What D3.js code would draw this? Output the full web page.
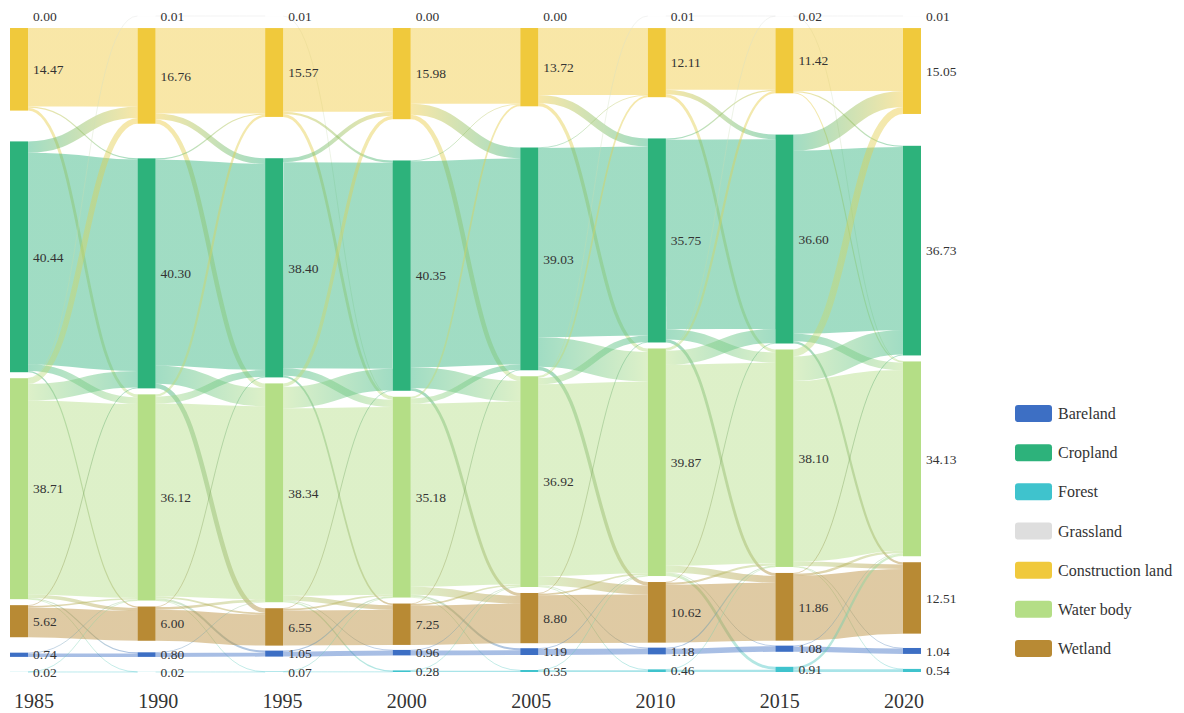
<!DOCTYPE html>
<html>
<head>
<meta charset="utf-8">
<script src="https://cdn.jsdelivr.net/npm/d3@7"></script>
<style>
  body { margin: 0; background: #fff; }
  svg { display: block; }
  svg text { font-family: "Liberation Serif", "Times New Roman", serif; }
</style>
</head>
<body>
<svg id="chart" width="1184" height="713"></svg>
<script>
// ---- data -------------------------------------------------------------
const years = ["1985", "1990", "1995", "2000", "2005", "2010", "2015", "2020"];

// stacking order of the land types in every column (top to bottom)
const landTypes = ["Grassland", "Construction land", "Cropland", "Water body", "Wetland", "Bareland", "Forest"];
const typeKeys  = ["grass", "built", "crop", "water", "wet", "bare", "forest"];
const typeColors = ["#dedede", "#f0c93c", "#2db27b", "#b4de86", "#b88a34", "#3d6fc4", "#3fc3cd"];
const legendOrder = ["Bareland", "Cropland", "Forest", "Grassland", "Construction land", "Water body", "Wetland"];

// share of the total area (%), one value per year
const grassland    = [0.00, 0.01, 0.01, 0.00, 0.00, 0.01, 0.02, 0.01];
const construction = [14.47, 16.76, 15.57, 15.98, 13.72, 12.11, 11.42, 15.05];
const cropland     = [40.44, 40.30, 38.40, 40.35, 39.03, 35.75, 36.60, 36.73];
const waterBody    = [38.71, 36.12, 38.34, 35.18, 36.92, 39.87, 38.10, 34.13];
const wetland      = [5.62, 6.00, 6.55, 7.25, 8.80, 10.62, 11.86, 12.51];
const bareland     = [0.74, 0.80, 1.05, 0.96, 1.19, 1.18, 1.08, 1.04];
const forest       = [0.02, 0.02, 0.07, 0.28, 0.35, 0.46, 0.91, 0.54];

// conversions between consecutive years: [from, to, % of area]
const flows_1985_1990 = [
  ["built", "built", 13.77], ["built", "crop", 0.20], ["built", "water", 0.50],
  ["crop", "built", 1.99], ["crop", "crop", 37.05], ["crop", "water", 1.20], ["crop", "wet", 0.20],
  ["water", "grass", 0.01], ["water", "built", 1.00], ["water", "crop", 2.90], ["water", "water", 33.99],
  ["water", "wet", 0.60], ["water", "bare", 0.20], ["water", "forest", 0.01],
  ["wet", "crop", 0.15], ["wet", "water", 0.27], ["wet", "wet", 5.20],
  ["bare", "water", 0.14], ["bare", "bare", 0.60],
  ["forest", "water", 0.01], ["forest", "forest", 0.01]
];
const flows_1990_1995 = [
  ["grass", "grass", 0.01],
  ["built", "built", 14.96], ["built", "crop", 1.00], ["built", "water", 0.80],
  ["crop", "built", 0.21], ["crop", "crop", 36.09], ["crop", "water", 3.20], ["crop", "wet", 0.80],
  ["water", "built", 0.40], ["water", "crop", 1.21], ["water", "water", 33.81],
  ["water", "wet", 0.30], ["water", "bare", 0.35], ["water", "forest", 0.05],
  ["wet", "crop", 0.10], ["wet", "water", 0.45], ["wet", "wet", 5.45],
  ["bare", "water", 0.10], ["bare", "bare", 0.70],
  ["forest", "forest", 0.02]
];
const flows_1995_2000 = [
  ["grass", "water", 0.01],
  ["built", "built", 14.67], ["built", "crop", 0.40], ["built", "water", 0.50],
  ["crop", "built", 0.71], ["crop", "crop", 36.09], ["crop", "water", 1.30], ["crop", "wet", 0.30],
  ["water", "built", 0.60], ["water", "crop", 3.76], ["water", "water", 32.86],
  ["water", "wet", 0.80], ["water", "bare", 0.10], ["water", "forest", 0.22],
  ["wet", "crop", 0.10], ["wet", "water", 0.30], ["wet", "wet", 6.15],
  ["bare", "water", 0.19], ["bare", "bare", 0.86],
  ["forest", "water", 0.01], ["forest", "forest", 0.06]
];
const flows_2000_2005 = [
  ["built", "built", 13.28], ["built", "crop", 1.90], ["built", "water", 0.80],
  ["crop", "built", 0.14], ["crop", "crop", 36.11], ["crop", "water", 3.60], ["crop", "wet", 0.50],
  ["water", "built", 0.30], ["water", "crop", 0.92], ["water", "water", 32.09],
  ["water", "wet", 1.40], ["water", "bare", 0.35], ["water", "forest", 0.12],
  ["wet", "crop", 0.10], ["wet", "water", 0.25], ["wet", "wet", 6.90],
  ["bare", "water", 0.12], ["bare", "bare", 0.84],
  ["forest", "water", 0.05], ["forest", "forest", 0.23]
];
const flows_2005_2010 = [
  ["built", "built", 11.72], ["built", "crop", 1.40], ["built", "water", 0.60],
  ["crop", "built", 0.09], ["crop", "crop", 33.14], ["crop", "water", 5.20], ["crop", "wet", 0.60],
  ["water", "grass", 0.01], ["water", "built", 0.30], ["water", "crop", 1.11], ["water", "water", 33.60],
  ["water", "wet", 1.60], ["water", "bare", 0.15], ["water", "forest", 0.15],
  ["wet", "crop", 0.10], ["wet", "water", 0.28], ["wet", "wet", 8.42],
  ["bare", "water", 0.16], ["bare", "bare", 1.03],
  ["forest", "water", 0.04], ["forest", "forest", 0.31]
];
const flows_2010_2015 = [
  ["grass", "grass", 0.01],
  ["built", "built", 10.81], ["built", "crop", 0.80], ["built", "water", 0.50],
  ["crop", "built", 0.21], ["crop", "crop", 33.24], ["crop", "water", 1.80], ["crop", "wet", 0.50],
  ["water", "grass", 0.01], ["water", "built", 0.40], ["water", "crop", 2.46], ["water", "water", 35.20],
  ["water", "wet", 1.20], ["water", "bare", 0.10], ["water", "forest", 0.50],
  ["wet", "crop", 0.10], ["wet", "water", 0.36], ["wet", "wet", 10.16],
  ["bare", "water", 0.20], ["bare", "bare", 0.98],
  ["forest", "water", 0.05], ["forest", "forest", 0.41]
];
const flows_2015_2020 = [
  ["grass", "grass", 0.01], ["grass", "water", 0.01],
  ["built", "built", 11.02], ["built", "crop", 0.20], ["built", "water", 0.20],
  ["crop", "built", 2.83], ["crop", "crop", 32.07], ["crop", "water", 1.30], ["crop", "wet", 0.40],
  ["water", "built", 1.20], ["water", "crop", 4.31], ["water", "water", 31.64],
  ["water", "wet", 0.80], ["water", "bare", 0.10], ["water", "forest", 0.05],
  ["wet", "crop", 0.15], ["wet", "water", 0.40], ["wet", "wet", 11.31],
  ["bare", "water", 0.14], ["bare", "bare", 0.94],
  ["forest", "water", 0.42], ["forest", "forest", 0.49]
];
const periodFlows = [flows_1985_1990, flows_1990_1995, flows_1995_2000, flows_2000_2005,
                     flows_2005_2010, flows_2010_2015, flows_2015_2020];

// ---- layout settings ---------------------------------------------------
const ext = { x0: 10, x1: 921, y0: 16, y1: 675 };
const nodeWidth = 18;
const scalePad = 14.7;   // padding reserved when sizing the nodes
const gap = 6;           // smallest gap kept between relaxed classes
const topGap = 12;       // space under the grassland node
const bottomGap = 15;    // space between the two small classes at the bottom
const iterations = 4;
const strength = 0.3;    // how far one relaxation step moves a node
const linkOpacity = 0.45;

const shares = [grassland, construction, cropland, waterBody, wetland, bareland, forest];

// ---- graph ---------------------------------------------------------------
const columns = years.map((yr, layer) =>
  landTypes.map((name, ti) => ({
    layer, ti, name, year: yr, value: shares[ti][layer],
    color: typeColors[ti], sourceLinks: [], targetLinks: []
  })));

const links = [];
periodFlows.forEach((flows, p) => {
  flows.forEach(([from, to, value]) => {
    const source = columns[p][typeKeys.indexOf(from)];
    const target = columns[p + 1][typeKeys.indexOf(to)];
    const link = { source, target, value };
    source.sourceLinks.push(link);
    target.targetLinks.push(link);
    links.push(link);
  });
});
const nodes = columns.flat();
nodes.forEach(n => {
  n.sourceLinks.sort((a, b) => a.target.ti - b.target.ti);
  n.targetLinks.sort((a, b) => a.source.ti - b.source.ti);
});

// horizontal placement
const xScale = d3.scalePoint().domain(years).range([ext.x0, ext.x1 - nodeWidth]);
nodes.forEach(n => { n.x0 = xScale(n.year); n.x1 = n.x0 + nodeWidth; });

// vertical size scale
const maxColumn = d3.max(columns, c => d3.sum(c, d => d.value));
const size = d3.scaleLinear()
  .domain([0, maxColumn])
  .range([0, ext.y1 - ext.y0 - (landTypes.length - 1) * scalePad]);
nodes.forEach(n => { n.h = size(n.value); });
links.forEach(l => { l.width = size(l.value); });

// grassland and construction land hang from the top, bareland and forest sit at the bottom;
// cropland, water body and wetland start evenly spaced in between and are then relaxed
const free = columns.map(col => col.slice(2, 5));
columns.forEach((col, i) => {
  const [g, c, , , , b, f] = col;
  g.y0 = ext.y0; g.y1 = g.y0 + g.h;
  c.y0 = g.y1 + topGap; c.y1 = c.y0 + c.h;
  f.y1 = ext.y1 - 3; f.y0 = f.y1 - f.h;
  b.y1 = f.y0 - bottomGap; b.y0 = b.y1 - b.h;
  const m = free[i];
  const bottom = b.y0 - 13;
  const spare = (bottom - c.y1 - d3.sum(m, d => d.h)) / m.length;
  m.lo = c.y1 + gap;
  m.hi = b.y0 - 5;
  let y = c.y1 + spare;
  m.forEach(n => { n.y0 = y; n.y1 = y + n.h; y = n.y1 + spare; });
});
const isFree = n => n.ti >= 2 && n.ti <= 4;
const isMain = n => n.ti >= 1 && n.ti <= 4;
const mid = n => (n.y0 + n.y1) / 2;

// keep the order, push overlapping nodes down, then back up from the bottom edge
function resolve(col) {
  let y = col.lo;
  for (const n of col) {
    const dy = y - n.y0;
    if (dy > 0) { n.y0 += dy; n.y1 += dy; }
    y = n.y1 + gap;
  }
  if (y - gap > col.hi) {
    let yb = col.hi;
    for (let i = col.length - 1; i >= 0; --i) {
      const n = col[i], dy = n.y1 - yb;
      if (dy > 0) { n.y0 -= dy; n.y1 -= dy; }
      yb = n.y0 - gap;
    }
  }
}
// nudge every free node toward the value-weighted centre of the nodes it is linked with
function relax(order, pick, other, alpha) {
  for (const i of order) {
    for (const n of free[i]) {
      let y = 0, w = 0;
      for (const l of pick(n)) {
        const o = other(l);
        if (!isMain(o)) continue;
        y += mid(o) * l.value; w += l.value;
      }
      if (!(w > 0)) continue;
      const dy = (y / w - mid(n)) * alpha;
      n.y0 += dy; n.y1 += dy;
    }
    resolve(free[i]);
  }
}
const leftToRight = d3.range(1, years.length);
const rightToLeft = d3.range(years.length - 2, -1, -1);
for (let i = 0, alpha = strength; i < iterations; ++i) {
  relax(rightToLeft, n => n.sourceLinks, l => l.target, alpha);
  relax(leftToRight, n => n.targetLinks, l => l.source, alpha);
  alpha *= 0.8;
}

// link end points, stacked inside their nodes
nodes.forEach(n => {
  let ys = n.y0, yt = n.y0;
  n.sourceLinks.forEach(l => { l.y0 = ys + l.width / 2; ys += l.width; });
  n.targetLinks.forEach(l => { l.y1 = yt + l.width / 2; yt += l.width; });
});

// ---- drawing -------------------------------------------------------------
const svg = d3.select("#chart");
const defs = svg.append("defs");

links.forEach((l, i) => {
  l.gid = "flow-grad-" + i;
  const g = defs.append("linearGradient")
    .attr("id", l.gid)
    .attr("gradientUnits", "userSpaceOnUse")
    .attr("x1", l.source.x1).attr("x2", l.target.x0)
    .attr("y1", 0).attr("y2", 0);
  g.append("stop").attr("offset", "0%").attr("stop-color", l.source.color);
  g.append("stop").attr("offset", "100%").attr("stop-color", l.target.color);
});

const linkPath = d3.linkHorizontal()
  .source(d => [d.source.x1, d.y0])
  .target(d => [d.target.x0, d.y1]);

svg.append("g")
  .attr("fill", "none")
  .selectAll("path")
  .data(links)
  .join("path")
  .attr("d", linkPath)
  .attr("stroke", d => `url(#${d.gid})`)
  .attr("stroke-opacity", linkOpacity)
  .attr("stroke-width", d => Math.max(0.8, d.width));

svg.append("g")
  .selectAll("rect")
  .data(nodes)
  .join("rect")
  .attr("x", d => d.x0)
  .attr("y", d => d.y0)
  .attr("width", nodeWidth)
  .attr("height", d => Math.max(0, d.y1 - d.y0))
  .attr("fill", d => d.color);

svg.append("g")
  .attr("font-size", 13.5)
  .attr("fill", "#333")
  .selectAll("text")
  .data(nodes)
  .join("text")
  .attr("x", d => d.x1 + 5)
  .attr("y", d => (d.y0 + d.y1) / 2)
  .attr("dy", "0.35em")
  .text(d => d.value.toFixed(2));

// year labels along the bottom
const yearScale = d3.scalePoint().domain(years).range([34, 904]);
svg.append("g")
  .attr("font-size", 20)
  .attr("fill", "#333")
  .attr("text-anchor", "middle")
  .selectAll("text")
  .data(years)
  .join("text")
  .attr("x", d => yearScale(d))
  .attr("y", 708)
  .text(d => d);

// legend
const legendY = d3.scalePoint().domain(legendOrder).range([413.5, 648.5]);
const legend = svg.append("g")
  .selectAll("g")
  .data(legendOrder)
  .join("g")
  .attr("transform", d => `translate(1015,${legendY(d)})`);
legend.append("rect")
  .attr("x", 0).attr("y", -8.5)
  .attr("width", 37).attr("height", 17)
  .attr("rx", 3)
  .attr("fill", d => typeColors[landTypes.indexOf(d)]);
legend.append("text")
  .attr("x", 43)
  .attr("dy", "0.35em")
  .attr("font-size", 16)
  .attr("fill", "#333")
  .text(d => d);
</script>
</body>
</html>
